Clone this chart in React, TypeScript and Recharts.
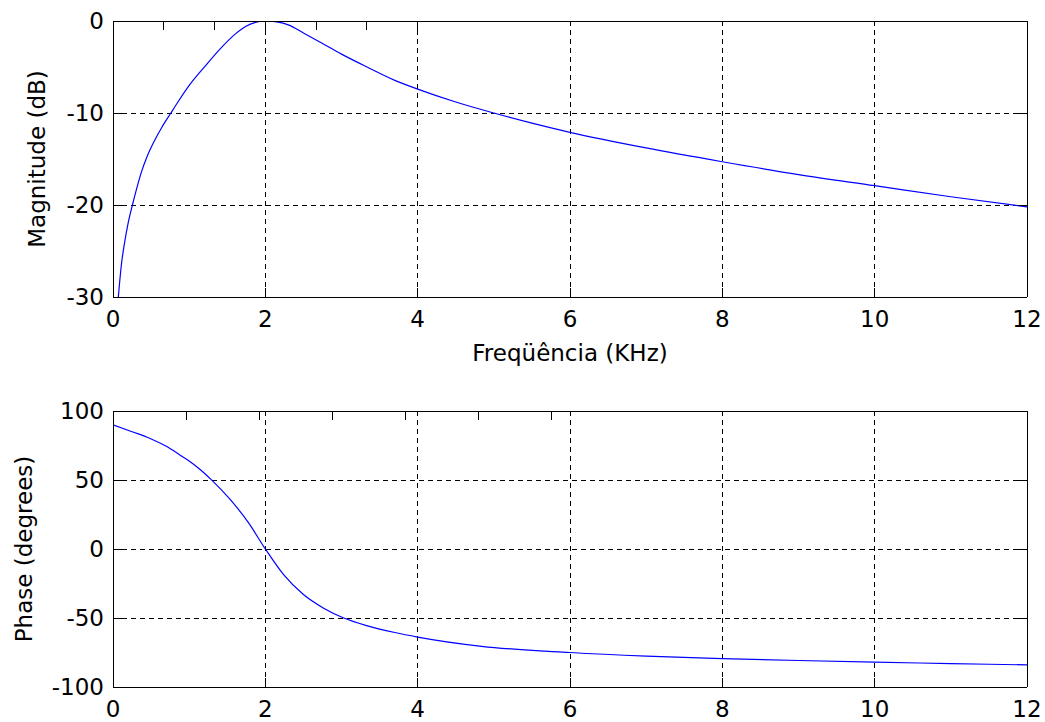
import React from 'react';
import { LineChart, Line, XAxis, YAxis, CartesianGrid, Label } from 'recharts';

// frequency axis (kHz)
const freqTicks = [0, 2, 4, 6, 8, 10, 12];
const magTicks = [-30, -20, -10, 0];
const phaseTicks = [-100, -50, 0, 50, 100];

// magnitude response
const magFreq = [0.07, 0.11, 0.154, 0.198, 0.255, 0.308, 0.374, 0.44, 0.527, 0.638, 0.76, 0.857, 1.01, 1.21, 1.41, 1.6, 1.74, 1.87, 2.0, 2.15, 2.31, 2.5, 2.74, 3.0, 3.36, 3.7, 4.0, 4.5, 5.0, 5.5, 6.0, 7.0, 8.0, 9.0, 10.0, 11.0, 12.0];
const magDb = [-30, -26.5, -24.0, -22.0, -20.0, -18.3, -16.4, -14.9, -13.3, -11.6, -10.0, -8.75, -6.9, -4.9, -3.0, -1.45, -0.6, -0.15, 0, -0.1, -0.45, -1.3, -2.4, -3.6, -5.1, -6.45, -7.4, -8.8, -10.0, -11.1, -12.1, -13.8, -15.3, -16.7, -17.9, -19.1, -20.2];

// phase response
const phaseFreq = [0, 0.25, 0.48, 0.7, 0.877, 1.0, 1.14, 1.29, 1.535, 1.776, 2.0, 2.24, 2.5, 2.76, 3.03, 3.33, 3.7, 4.0, 4.84, 6.0, 7.0, 8.0, 9.0, 10.0, 11.0, 12.0];
const phaseDeg = [90, 85, 80.3, 74.4, 68.2, 63.8, 57.8, 50.3, 36.1, 19.3, 0, -18.6, -33, -42.7, -50, -55.5, -60.5, -63.8, -70.5, -75, -77.6, -79.4, -80.8, -82, -83, -84];

const magData = magFreq.map((f, i) => ({ f, v: magDb[i] }));
const phaseData = phaseFreq.map((f, i) => ({ f, v: phaseDeg[i] }));

const FONT = '"DejaVu Sans", sans-serif';
const FS = 23;
const TL = 9; // inward tick length

const LeftTick = ({ x, y, payload }: any) => (
  <g>
    <line x1={x} y1={y} x2={x + TL} y2={y} stroke="#000" shapeRendering="crispEdges" />
    <text x={x - 9} y={y} dy="0.36em" textAnchor="end" fontFamily={FONT} fontSize={FS} fill="#000">{payload.value}</text>
  </g>
);
const RightTick = ({ x, y }: any) => <line x1={x} y1={y} x2={x - TL} y2={y} stroke="#000" shapeRendering="crispEdges" />;
const BottomTick = ({ x, y, payload }: any) => (
  <g>
    <line x1={x} y1={y} x2={x} y2={y - TL} stroke="#000" shapeRendering="crispEdges" />
    <text x={x} y={y + 30} textAnchor="middle" fontFamily={FONT} fontSize={FS} fill="#000">{payload.value}</text>
  </g>
);
const TopTick = ({ x, y }: any) => <line x1={x} y1={y} x2={x} y2={y + TL} stroke="#000" shapeRendering="crispEdges" />;

interface PanelProps {
  data: { f: number; v: number }[];
  yTicks: number[];
  yLabel: string;
  yLabelX: number;
  xLabel?: string;
  height: number;
  plotTop: number;
  plotBottom: number;
}

const Panel: React.FC<PanelProps> = ({ data, yTicks, yLabel, yLabelX, xLabel, height, plotTop, plotBottom }) => {
  const yDomain = [yTicks[0], yTicks[yTicks.length - 1]];
  const axisLine = { stroke: '#000', shapeRendering: 'crispEdges' };
  return (
    <LineChart width={1045} height={height} data={data} margin={{ top: 0, right: 0, bottom: 0, left: 0 }}>
      <CartesianGrid stroke="#000" strokeDasharray="5 4" shapeRendering="crispEdges" />
      <XAxis
        dataKey="f" type="number" domain={[0, 12]} ticks={freqTicks} allowDataOverflow
        height={height - plotBottom} tickSize={0} tickMargin={0} tickLine={false}
        axisLine={axisLine} tick={<BottomTick />} interval={0}
      >
        {xLabel && (
          <Label
            content={({ viewBox }: any) => (
              <text x={viewBox.x + viewBox.width / 2} y={viewBox.y + 64} textAnchor="middle" fontFamily={FONT} fontSize={FS} fill="#000">{xLabel}</text>
            )}
          />
        )}
      </XAxis>
      <XAxis
        xAxisId="top" orientation="top" type="number" domain={[0, 12]} ticks={freqTicks} allowDataOverflow
        height={plotTop} tickSize={0} tickMargin={0} tickLine={false}
        axisLine={axisLine} tick={<TopTick />} interval={0}
      />
      <YAxis
        type="number" domain={yDomain} ticks={yTicks} allowDataOverflow width={113}
        tickSize={0} tickMargin={0} tickLine={false} axisLine={axisLine} tick={<LeftTick />} interval={0}
      >
        <Label
          content={({ viewBox }: any) => {
            const cy = viewBox.y + viewBox.height / 2;
            return (
              <text x={yLabelX} y={cy} transform={`rotate(-90 ${yLabelX} ${cy})`} textAnchor="middle" fontFamily={FONT} fontSize={FS} fill="#000">{yLabel}</text>
            );
          }}
        />
      </YAxis>
      <YAxis
        yAxisId="right" orientation="right" type="number" domain={yDomain} ticks={yTicks} allowDataOverflow width={18}
        tickSize={0} tickMargin={0} tickLine={false} axisLine={axisLine} tick={<RightTick />} interval={0}
      />
      <Line type="monotone" dataKey="v" stroke="#0000ff" strokeWidth={1.2} dot={false} isAnimationActive={false} />
    </LineChart>
  );
};

export default function App() {
  return (
    <div style={{ position: 'absolute', left: 0, top: 0, width: 1045, height: 722, background: '#fff' }}>
      <div style={{ position: 'absolute', left: 0, top: 0 }}>
        <Panel data={magData} yTicks={magTicks} yLabel="Magnitude (dB)" yLabelX={45} xLabel="Freqüência (KHz)" height={380} plotTop={21} plotBottom={297} />
      </div>
      <div style={{ position: 'absolute', left: 0, top: 380 }}>
        <Panel data={phaseData} yTicks={phaseTicks} yLabel="Phase (degrees)" yLabelX={32} height={342} plotTop={31} plotBottom={307} />
      </div>
    </div>
  );
}
